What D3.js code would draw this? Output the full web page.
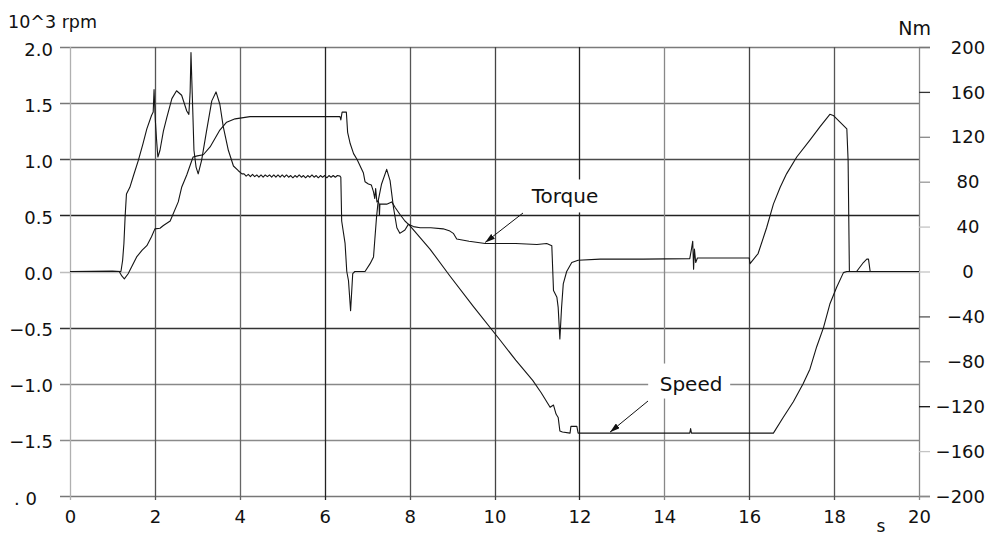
<!DOCTYPE html>
<html>
<head>
<meta charset="utf-8">
<script src="https://cdn.jsdelivr.net/npm/d3@7"></script>
<style>
  html, body { margin: 0; padding: 0; background: #fff; }
  svg { display: block; }
  text { font-family: "DejaVu Sans", sans-serif; fill: #111; }
</style>
</head>
<body>
<svg id="chart" width="987" height="539"></svg>
<script>
// ---------------- data ----------------
const timeTicks = [0, 2, 4, 6, 8, 10, 12, 14, 16, 18, 20];
const speedTicks = [2.0, 1.5, 1.0, 0.5, 0.0, -0.5, -1.0, -1.5, -2.0];
const speedTickLabels = ["2.0", "1.5", "1.0", "0.5", "0.0", "\u22120.5", "\u22121.0", "\u22121.5", ". 0"];
const torqueTicks = [200, 160, 120, 80, 40, 0, -40, -80, -120, -160, -200];
const torqueTickLabels = ["200", "160", "120", "80", "40", "0", "\u221240", "\u221280", "\u2212120", "\u2212160", "\u2212200"];

// Speed [s, 10^3 rpm]
const speedData = [
  [0,0],[1.16,0],[1.22,-0.04],[1.28,-0.065],[1.37,-0.02],[1.45,0.04],[1.57,0.13],[1.70,0.19],
  [1.81,0.23],[1.92,0.31],[2.0,0.38],[2.12,0.385],[2.2,0.41],[2.36,0.45],[2.55,0.62],[2.63,0.75],
  [2.75,0.86],[2.88,1.0],[2.9,1.02],[3.0,1.03],[3.14,1.04],[3.3,1.11],[3.53,1.26],[3.69,1.33],
  [3.89,1.36],[4.24,1.38],[5.0,1.38],[6.0,1.38],[6.36,1.38],[6.38,1.35],[6.41,1.42],[6.51,1.42],
  [6.54,1.24],[6.60,1.14],[6.68,1.05],[6.76,1.0],[6.91,0.88],[6.95,0.80],[7.03,0.78],[7.10,0.77],
  [7.15,0.71],[7.18,0.65],[7.20,0.74],[7.23,0.62],[7.26,0.63],[7.28,0.60],[7.29,0.50],[7.30,0.60],
  [7.46,0.60],[7.58,0.62],[7.66,0.57],[7.77,0.51],[7.89,0.45],[8.0,0.41],[8.48,0.20],[8.95,-0.04],
  [9.5,-0.31],[10.13,-0.61],[10.5,-0.79],[10.9,-0.97],[11.1,-1.08],[11.31,-1.21],[11.39,-1.19],
  [11.45,-1.27],[11.50,-1.30],[11.54,-1.42],[11.6,-1.43],[11.78,-1.44],[11.8,-1.38],[11.94,-1.38],
  [11.97,-1.44],[14.6,-1.44],[14.62,-1.40],[14.64,-1.44],[16.57,-1.44],[16.80,-1.30],[17.04,-1.16],
  [17.27,-1.0],[17.43,-0.87],[17.59,-0.67],[17.75,-0.50],[17.90,-0.29],[18.06,-0.14],[18.22,-0.01],
  [18.3,0],[20,0]
];

// Torque [s, Nm]
const torqueData = [
  [0,0],[1.0,0.5],[1.2,0],[1.24,10],[1.27,25],[1.30,50],[1.33,69],[1.41,75],[1.50,86],[1.61,99],
  [1.72,114],[1.81,127],[1.92,139],[1.96,142],[1.98,162],[2.01,135],[2.04,117],[2.07,102],[2.12,108],
  [2.2,125],[2.28,137],[2.4,154],[2.51,161],[2.63,157],[2.75,143],[2.80,140],[2.83,160],[2.85,195],
  [2.87,170],[2.89,146],[2.92,108],[2.97,93],[3.02,87],[3.10,99],[3.22,126],[3.34,152],[3.44,160],
  [3.53,149],[3.61,129],[3.73,108],[3.85,94],[3.96,90],[4.05,87],
  [4.10,87],[4.15,85],[4.20,86.5],[4.25,84.5],[4.30,86.5],[4.35,84.5],[4.40,86],[4.45,84],[4.50,86],
  [4.55,84],[4.60,86],[4.65,84.5],[4.70,86],[4.75,84],[4.80,86],[4.85,84],[4.90,86],[4.95,84],
  [5.00,86],[5.05,84],[5.10,86],[5.15,84],[5.20,85.5],[5.25,83.5],[5.30,85.5],[5.35,84],[5.40,86],
  [5.45,84],[5.50,85.5],[5.55,83.5],[5.60,85.5],[5.65,84],[5.70,86],[5.75,84],[5.80,85.5],[5.85,83.5],
  [5.90,85.5],[5.95,84],[6.00,85.5],[6.05,83.5],[6.10,85.5],[6.15,84],[6.20,85.5],[6.25,84],[6.30,85.5],
  [6.36,85],[6.38,84],[6.40,45],[6.48,25],[6.52,0],[6.56,-8],[6.61,-35],[6.66,-2],[6.71,0],[6.95,0],
  [7.07,7],[7.15,13],[7.18,28],[7.22,48],[7.26,63],[7.34,78],[7.46,91],[7.54,81],[7.62,57],[7.70,39],
  [7.77,34],[7.89,37],[7.97,42],[8.09,40],[8.25,39],[8.5,39],[8.79,38],[8.95,36],[9.03,34],[9.11,29],
  [9.4,27],[9.78,25],[10.5,25],[11.0,24],[11.23,25],[11.35,23],[11.39,-17],[11.47,-23],[11.50,-32],
  [11.54,-60],[11.58,-32],[11.62,-11],[11.70,0],[11.82,8],[11.97,10],[12.49,11],[13.5,11],[14.6,11.5],
  [14.64,20],[14.67,27],[14.69,2],[14.71,20],[14.74,8],[14.78,12],[15.5,12],[16.0,12],[16.02,7],
  [16.21,16],[16.41,39],[16.57,60],[16.73,75],[16.88,87],[17.12,102],[17.43,117],[17.67,129],
  [17.90,140],[17.98,139],[18.14,133],[18.30,127],[18.33,99],[18.36,0],[18.53,0],[18.69,8],[18.77,11],
  [18.81,11],[18.85,0],[20,0]
];

// ---------------- drawing ----------------
const svg = d3.select("#chart");
const x = d3.scaleLinear().domain([0, 20]).range([70, 919]);
const yL = d3.scaleLinear().domain([-2, 2]).range([496, 47]);
const yR = d3.scaleLinear().domain([-200, 200]).range([496, 47]);

// grid line shades (scanned look)
const hShade = ["#7a7a7a", "#777", "#4a4a4a", "#222", "#bdbdbd", "#333", "#888", "#8a8a8a", "#777"];
const vShade = ["#b0b0b0", "#555", "#666", "#222", "#555", "#444", "#222", "#888", "#444", "#555", "#888"];
const rShade = ["#777", "#333", "#888", "#999", "#c4c4c4", "#c4c4c4", "#555", "#777", "#111", "#c4c4c4", "#888"];

const grid = svg.append("g");
speedTicks.forEach((v, i) => {
  const ext = (i === 0 || i === speedTicks.length - 1) ? 930 : 919;
  grid.append("line")
    .attr("x1", 60).attr("x2", ext)
    .attr("y1", Math.round(yL(v)) + 0.5).attr("y2", Math.round(yL(v)) + 0.5)
    .attr("stroke", hShade[i]).attr("stroke-width", 1.3);
});
timeTicks.forEach((t, i) => {
  grid.append("line")
    .attr("x1", Math.round(x(t)) + 0.5).attr("x2", Math.round(x(t)) + 0.5)
    .attr("y1", 47).attr("y2", 500)
    .attr("stroke", vShade[i]).attr("stroke-width", 1.3);
});

// left axis (labels only)
const axL = svg.append("g").attr("transform", "translate(70,0)")
  .call(d3.axisLeft(yL).tickValues(speedTicks).tickSize(0).tickPadding(17)
    .tickFormat((d, i) => speedTickLabels[i]));
axL.select(".domain").remove();
axL.selectAll("text").attr("font-size", 18).attr("dy", "0.45em")
  .attr("font-family", "DejaVu Sans, sans-serif").attr("fill", "#111");
axL.selectAll(".tick").filter(d => d === -2).select("text").attr("x", -33);

// right axis
const axR = svg.append("g").attr("transform", "translate(919,0)")
  .call(d3.axisRight(yR).tickValues(torqueTicks).tickSize(11).tickPadding(8)
    .tickFormat((d, i) => torqueTickLabels[i]));
axR.select(".domain").remove();
axR.selectAll(".tick line").attr("stroke", (d, i) => rShade[i]).attr("stroke-width", 1.3);
axR.selectAll("text").attr("font-size", 18).attr("dy", "0.34em")
  .attr("font-family", "DejaVu Sans, sans-serif").attr("fill", "#111")
  .attr("text-anchor", d => d < 0 ? "end" : "middle")
  .attr("x", d => d < 0 ? 66 : 49);

// bottom axis
const axB = svg.append("g").attr("transform", "translate(0,496)")
  .call(d3.axisBottom(x).tickValues(timeTicks).tickSize(0).tickPadding(14)
    .tickFormat(d3.format("d")));
axB.select(".domain").remove();
axB.selectAll("text").attr("font-size", 18)
  .attr("font-family", "DejaVu Sans, sans-serif").attr("fill", "#111");

// axis unit titles
svg.append("text").attr("x", 8).attr("y", 28).attr("font-size", 17.5).text("10^3 rpm");
svg.append("text").attr("x", 931).attr("y", 35).attr("font-size", 19).attr("text-anchor", "end").text("Nm");
svg.append("text").attr("x", 881).attr("y", 532).attr("font-size", 17).attr("text-anchor", "middle").text("s");

// annotation label backgrounds (they interrupt the grid)
svg.append("rect").attr("x", x(10.82)).attr("y", yL(0.82)).attr("width", 90).attr("height", 33).attr("fill", "#fff");
svg.append("rect").attr("x", x(13.62)).attr("y", yL(-0.82)).attr("width", 82).attr("height", 35).attr("fill", "#fff");

// series
const lineSpeed = d3.line().x(d => x(d[0])).y(d => yL(d[1]));
const lineTorque = d3.line().x(d => x(d[0])).y(d => yR(d[1]));
svg.append("path").datum(speedData).attr("d", lineSpeed)
  .attr("fill", "none").attr("stroke", "#151515").attr("stroke-width", 1.1).attr("stroke-linejoin", "round");
svg.append("path").datum(torqueData).attr("d", lineTorque)
  .attr("fill", "none").attr("stroke", "#151515").attr("stroke-width", 1.1).attr("stroke-linejoin", "round");

// annotations
svg.append("defs").append("marker")
  .attr("id", "arr").attr("viewBox", "0 0 10 6").attr("refX", 10).attr("refY", 3)
  .attr("markerWidth", 10).attr("markerHeight", 6).attr("markerUnits", "userSpaceOnUse")
  .attr("orient", "auto")
  .append("path").attr("d", "M0,0 L10,3 L0,6 Z").attr("fill", "#111");

svg.append("text").attr("x", x(11.66)).attr("y", 203).attr("font-size", 20)
  .attr("text-anchor", "middle").text("Torque");
svg.append("line").attr("x1", 523).attr("y1", 213).attr("x2", x(9.78)).attr("y2", yR(25) - 1)
  .attr("stroke", "#111").attr("stroke-width", 1).attr("marker-end", "url(#arr)");

svg.append("text").attr("x", x(14.63)).attr("y", 391).attr("font-size", 20)
  .attr("text-anchor", "middle").text("Speed");
svg.append("line").attr("x1", 648).attr("y1", 401).attr("x2", 610).attr("y2", yL(-1.44) - 1)
  .attr("stroke", "#111").attr("stroke-width", 1).attr("marker-end", "url(#arr)");
</script>
</body>
</html>
